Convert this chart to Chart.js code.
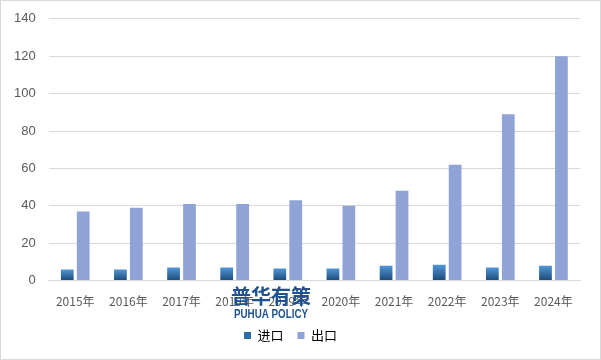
<!DOCTYPE html>
<html>
<head>
<meta charset="utf-8">
<script src="https://cdn.jsdelivr.net/npm/chart.js@4"></script>
<style>
  html, body { margin: 0; padding: 0; background: #fff; }
  #wrap { width: 599px; height: 358px; border: 1px solid #d9d9d9; position: relative; }
</style>
</head>
<body>
<div id="wrap"><canvas id="chart" width="599" height="358"></canvas></div>
<script>
const years = ['2015年', '2016年', '2017年', '2018年', '2019年', '2020年', '2021年', '2022年', '2023年', '2024年'];
const importValues = [6, 6, 7, 7, 6.5, 6.5, 8, 8.5, 7, 8];
const exportValues = [37, 39, 41, 41, 43, 40, 48, 62, 89, 120];
const yTicks = [0, 20, 40, 60, 80, 100, 120, 140];

// vertical gradient per import bar, light on top, dark at the base
function importGradient(ctx) {
    const chart = ctx.chart;
    const ys = chart.scales.y;
    if (!chart.chartArea || !ys || ctx.parsed == null) return '#2e6aa8';
    const top = ys.getPixelForValue(ctx.parsed.y);
    const bottom = ys.getPixelForValue(0);
    const g = chart.ctx.createLinearGradient(0, top, 0, bottom);
    g.addColorStop(0, '#5096d8');
    g.addColorStop(1, '#1d4a78');
    return g;
}

const watermark = {
    id: 'watermark',
    afterDraw(chart) {
        const c = chart.ctx;
        c.save();
        c.textAlign = 'center';
        c.fillStyle = '#1f528e';
        c.font = 'bold 20px "Noto Sans CJK SC"';
        c.fillText('普华有策', 270, 295);
        c.font = 'bold 13px "Liberation Sans"';
        c.fillText('PUHUA POLICY', 270, 313, 74);
        c.restore();
    }
};

new Chart(document.getElementById('chart'), {
    type: 'bar',
    data: {
        labels: years,
        datasets: [
            {
                label: '进口',
                data: importValues,
                backgroundColor: importGradient,
                barPercentage: 0.8,
                categoryPercentage: 0.6
            },
            {
                label: '出口',
                data: exportValues,
                backgroundColor: '#8fa3d6',
                barPercentage: 0.8,
                categoryPercentage: 0.6
            }
        ]
    },
    options: {
        responsive: false,
        animation: false,
        layout: { padding: { top: 0, right: 20, left: 0, bottom: 7 } },
        plugins: {
            legend: {
                position: 'bottom',
                labels: {
                    boxWidth: 7,
                    boxHeight: 7,
                    padding: 14,
                    color: '#595959',
                    font: { family: '"Noto Sans CJK SC"', size: 13 },
                    generateLabels(chart) {
                        return chart.data.datasets.map((ds, i) => ({
                            text: ds.label,
                            fillStyle: i === 0 ? '#2e6aa8' : '#8fa3d6',
                            strokeStyle: 'transparent',
                            lineWidth: 0,
                            datasetIndex: i
                        }));
                    }
                }
            },
            tooltip: { enabled: false }
        },
        scales: {
            x: {
                grid: { display: false },
                border: { color: '#d9d9d9' },
                ticks: { color: '#595959', padding: 6, font: { family: '"Noto Sans CJK SC"', size: 12 }, maxRotation: 0 }
            },
            y: {
                min: 0,
                max: 140,
                afterBuildTicks(axis) { axis.ticks = yTicks.map(v => ({ value: v })); },
                grid: { color: '#d9d9d9', drawTicks: false },
                border: { display: false },
                ticks: { color: '#595959', padding: 13, font: { family: '"Liberation Sans"', size: 13, lineHeight: 0.75 } }
            }
        }
    },
    plugins: [watermark]
});
</script>
</body>
</html>
